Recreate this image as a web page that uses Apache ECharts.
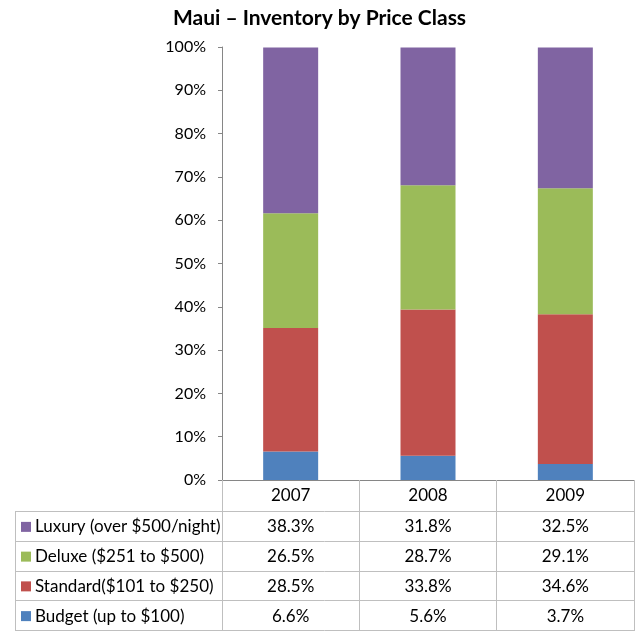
<!DOCTYPE html>
<html><head><meta charset="utf-8">
<script src="https://cdn.jsdelivr.net/npm/echarts@6/dist/echarts.min.js"></script>
<style>html,body{margin:0;padding:0;background:#fff}#c{width:639px;height:631px}</style>
</head><body><div id="c"></div>
<script>
const categories = ['2007', '2008', '2009'];
const budget = [6.6, 5.6, 3.7];
const standard = [28.5, 33.8, 34.6];
const deluxe = [26.5, 28.7, 29.1];
const luxury = [38.3, 31.8, 32.5];
const seriesNames = ['Budget (up to $100)', 'Standard($101 to $250)', 'Deluxe ($251 to $500)', 'Luxury (over $500/night)'];
const seriesColors = ['#4F81BD', '#C0504D', '#9BBB59', '#8064A2'];
const seriesData = [budget, standard, deluxe, luxury];

const FONT = 'Lato';
const chart = echarts.init(document.getElementById('c'));
const TABLE_H = 151;
const option = {
  animation: false,
  textStyle: { fontFamily: FONT },
  title: {
    text: 'Maui – Inventory by Price Class', left: 'center', top: 3,
    textStyle: { fontSize: 21, fontWeight: 'bold', color: '#000', fontFamily: FONT }
  },
  grid: { left: 222, right: 5, top: 47, bottom: TABLE_H },
  xAxis: {
    type: 'category', data: categories,
    axisLine: { lineStyle: { color: '#868686' } },
    axisTick: { show: true, length: TABLE_H, lineStyle: { color: '#bfbfbf' } },
    axisLabel: { fontSize: 17, color: '#000', margin: 7, fontFamily: FONT }
  },
  yAxis: {
    type: 'value', min: 0, max: 100, interval: 10,
    axisLine: { show: true, lineStyle: { color: '#868686' } },
    axisTick: { show: true, length: 4, lineStyle: { color: '#868686' } },
    splitLine: { show: false },
    axisLabel: { formatter: '{value}%', fontSize: 16, color: '#000', margin: 16, fontFamily: FONT }
  },
  series: seriesData.map((d, i) => ({
    name: seriesNames[i], type: 'bar', stack: 'all', data: d,
    barWidth: 55, itemStyle: { color: seriesColors[i] }
  }))
};
chart.setOption(option);

// data table
const rowsTopDown = [3, 2, 1, 0];
const y0 = chart.convertToPixel({ yAxisIndex: 0 }, 0);
const xLeft = 15, xRight = 639 - 5;
const headerH = 32;
const rowH = (631 - y0 - headerH) / 4;
const g = [];
const lineStyle = { stroke: '#bfbfbf', lineWidth: 1 };
for (let r = 0; r <= 4; r++) {
  const y = Math.round(y0 + headerH + r * rowH) - 0.5;
  g.push({ type: 'line', shape: { x1: xLeft, y1: y, x2: xRight, y2: y }, style: lineStyle, silent: true });
}
g.push({ type: 'line', shape: { x1: xLeft + 0.5, y1: y0 + headerH, x2: xLeft + 0.5, y2: 631 }, style: lineStyle, silent: true });
rowsTopDown.forEach((si, r) => {
  const cy = y0 + headerH + (r + 0.5) * rowH;
  g.push({ type: 'rect', shape: { x: 21, y: cy - 5, width: 10, height: 10 }, style: { fill: seriesColors[si] }, silent: true });
  g.push({ type: 'text', x: 35, y: cy, style: { text: seriesNames[si], fontSize: 17, fontFamily: FONT, fill: '#000', align: 'left', verticalAlign: 'middle' }, silent: true });
  categories.forEach((c, ci) => {
    const cx = chart.convertToPixel({ xAxisIndex: 0 }, c);
    g.push({ type: 'text', x: cx, y: cy, style: { text: seriesData[si][ci].toFixed(1) + '%', fontSize: 17, fontFamily: FONT, fill: '#000', align: 'center', verticalAlign: 'middle' }, silent: true });
  });
});
chart.setOption({ graphic: g });
</script></body></html>
